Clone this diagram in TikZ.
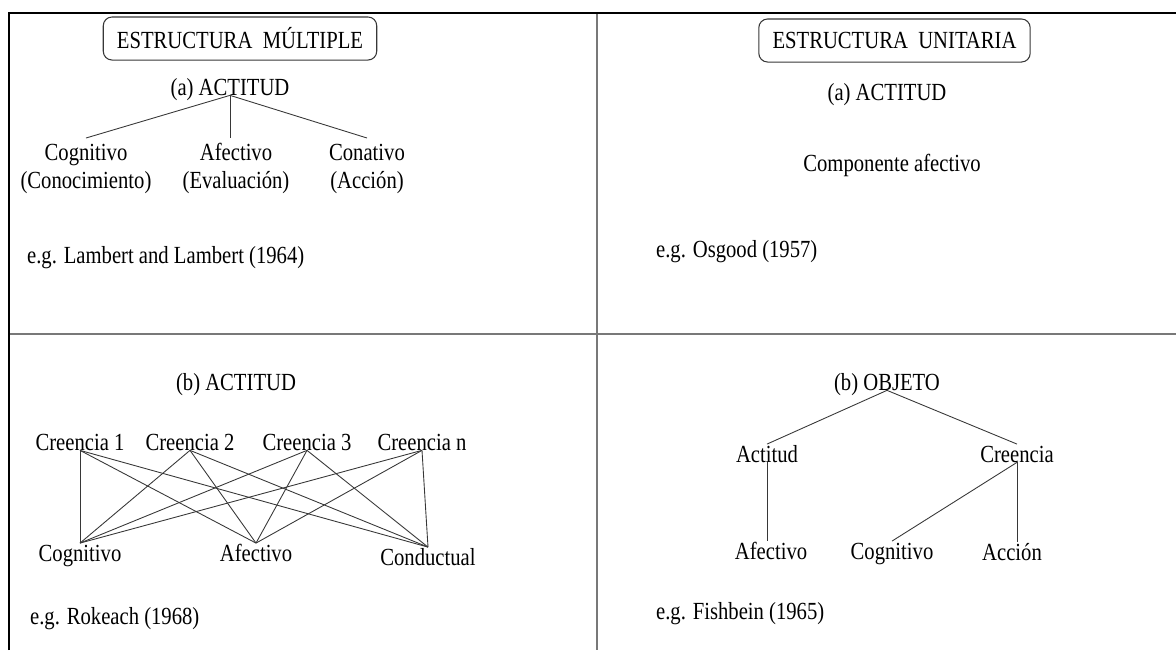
\documentclass[tikz,border=0pt]{standalone}
\usepackage{fontspec}
\setmainfont{Liberation Serif}[FakeStretch=0.84]
\usepackage{tikz}
\usepackage{xcolor}
\definecolor{rulegray}{RGB}{120,120,120}
\definecolor{linkgray}{RGB}{55,55,55}
\tikzstyle{frame} = [line width=1.4pt, color=black]
\tikzstyle{divider} = [line width=1.1pt, color=rulegray]
\tikzstyle{titlebox} = [rectangle, rounded corners=5pt, draw=linkgray, line width=0.6pt, inner xsep=7.8pt, minimum height=24.5pt, font=\fontsize{14}{16}\selectfont]
\tikzstyle{term} = [anchor=base, inner xsep=1pt, inner ysep=0pt, text height=10pt, text depth=0pt, font=\fontsize{14}{16}\selectfont]
\tikzstyle{twoline} = [anchor=north, inner xsep=1pt, inner ysep=1.5pt, font=\fontsize{14}{16}\selectfont]
\tikzstyle{cite} = [term, anchor=base west]
\tikzstyle{link} = [draw=linkgray, line width=0.5pt]
\newcommand{\twolines}[2]{\begin{tabular}{@{}c@{}}#1\\#2\end{tabular}}

\begin{document}
\begin{tikzpicture}[x=0.02cm, y=-0.02cm]
\useasboundingbox (0,0) rectangle (1176,650);
% Frame and quadrants
\draw[divider] (597,13) -- (597,650);
\draw[divider] (9,334) -- (1176,334);
\draw[frame] (9,650) -- (9,13) -- (1176,13);

% Multiple structure (a)
\node (multi) [titlebox] at (240,38.5) {ESTRUCTURA~ MÚLTIPLE};
\node (actA) [term] at (230,95) {(a) ACTITUD};
\node (cogA) [twoline] at (86,138) {\twolines{Cognitivo}{(Conocimiento)}};
\node (afeA) [twoline] at (236,138) {\twolines{Afectivo}{(Evaluación)}};
\node (conA) [twoline] at (367,138) {\twolines{Conativo}{(Acción)}};
\node (lambert) [cite] at (25,263) {e.g. Lambert and Lambert (1964)};

\draw[link] (actA.south) -- (cogA.north);
\draw[link] (actA.south) -- (actA.south |- afeA.north);
\draw[link] (actA.south) -- (conA.north);

% Unitary structure (a)
\node (unit) [titlebox] at (894.5,40.5) {ESTRUCTURA~ UNITARIA};
\node (actU) [term] at (887,100) {(a) ACTITUD};
\node (comp) [term] at (892,171) {Componente afectivo};
\node (osgood) [cite] at (654,257) {e.g. Osgood (1957)};

% Multiple structure (b)
\node (actC) [term] at (236,390) {(b) ACTITUD};
\node (cr1) [term] at (80,450) {Creencia 1};
\node (cr2) [term] at (190,450) {Creencia 2};
\node (cr3) [term] at (307,450) {Creencia 3};
\node (crn) [term] at (422,450) {Creencia n};
\node (cogC) [term] at (80,561) {Cognitivo};
\node (afeC) [term] at (256,561) {Afectivo};
\node (conC) [term] at (428,565) {Conductual};
\node (rokeach) [cite] at (28,624) {e.g. Rokeach (1968)};

\draw[link] (cr1.south) -- (cogC.north);
\draw[link] (cr1.south) -- (afeC.north);
\draw[link] (cr1.south) -- (conC.north);
\draw[link] (cr2.south) -- (cogC.north);
\draw[link] (cr2.south) -- (afeC.north);
\draw[link] (cr2.south) -- (conC.north);
\draw[link] (cr3.south) -- (cogC.north);
\draw[link] (cr3.south) -- (afeC.north);
\draw[link] (cr3.south) -- (conC.north);
\draw[link] (crn.south) -- (cogC.north);
\draw[link] (crn.south) -- (afeC.north);
\draw[link] (crn.south) -- (conC.north);

% Unitary structure (b)
\node (obj) [term] at (887,390) {(b) OBJETO};
\node (actD) [term] at (767,462) {Actitud};
\node (creD) [term] at (1017,462) {Creencia};
\node (afeD) [term] at (771,559) {Afectivo};
\node (cogD) [term] at (892,559) {Cognitivo};
\node (accD) [term] at (1012,560) {Acción};
\node (fishbein) [cite] at (654,619) {e.g. Fishbein (1965)};

\draw[link] (obj.south) -- (actD.north);
\draw[link] (obj.south) -- (creD.north);
\draw[link] (actD.south) -- (actD.south |- afeD.north);
\draw[link] (creD.south) -- (cogD.north);
\draw[link] (creD.south) -- (creD.south |- accD.north);
\end{tikzpicture}
\end{document}
